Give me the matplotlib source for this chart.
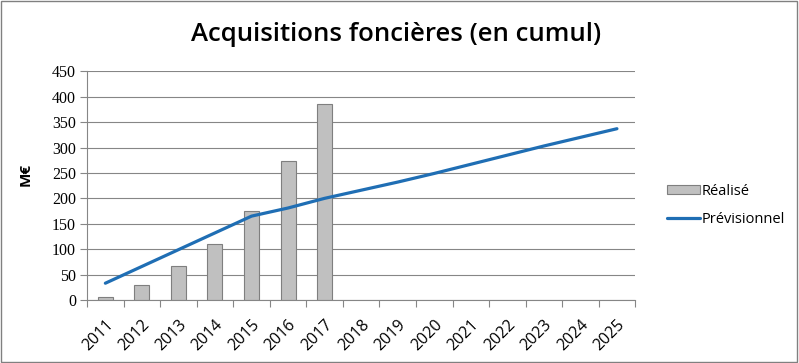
import matplotlib
matplotlib.use("Agg")
import matplotlib.pyplot as plt
import matplotlib.transforms as mtransforms
from matplotlib.patches import Rectangle
import numpy as np

years = [str(y) for y in range(2011, 2026)]
realise = [5, 29, 66, 111, 176, 273, 385]
previsionnel = [33, 66, 99, 132, 165, 181, 200, 216, 232, 249, 267, 285, 303, 320, 337]
yticks = list(range(0, 451, 50))

fig = plt.figure(figsize=(7.99, 3.63), dpi=100)
fig.patches.append(Rectangle((0.001, 0.002), 0.997, 0.996, transform=fig.transFigure,
                             fill=False, edgecolor="#808080", linewidth=1.0))
ax = fig.add_axes([0.109, 0.1736, 0.686, 0.630])

x = np.arange(len(years))
bars = ax.bar(x[:len(realise)], realise, width=0.41, color="#C0C0C0", edgecolor="#7F7F7F",
              linewidth=0.8, label="Réalisé", zorder=2)
line, = ax.plot(x, previsionnel, color="#1F6EB4", linewidth=2.3, label="Prévisionnel", zorder=3,
                solid_capstyle="round")

ax.set_xlim(-0.5, len(years) - 0.5)
ax.set_ylim(0, 450)
ax.set_yticks(yticks)
ax.set_yticklabels([str(v) for v in yticks], family="Liberation Serif", fontsize=11.5)
ax.set_xticks(x)
ax.set_xticklabels(years, rotation=45, family="Open Sans", fontsize=11.5,
                   ha="right", va="top", rotation_mode="anchor")
offset = mtransforms.ScaledTranslation(6 / 100, 0, fig.dpi_scale_trans)
for lbl in ax.get_xticklabels():
    lbl.set_transform(lbl.get_transform() + offset)
ax.tick_params(axis="x", which="major", length=0, pad=12)
ax.set_xticks(np.arange(-0.5, len(years), 1), minor=True)
ax.tick_params(axis="x", which="minor", length=5, color="#868686", width=0.8)
ax.tick_params(axis="y", length=5, color="#868686", width=0.8, pad=3)
ax.yaxis.grid(True, color="#868686", linewidth=0.8, zorder=0)
ax.set_axisbelow(True)
for s in ["top", "right"]:
    ax.spines[s].set_visible(False)
for s in ["left", "bottom"]:
    ax.spines[s].set_color("#868686")
    ax.spines[s].set_linewidth(0.8)

ax.set_ylabel("M€", family="Open Sans", fontsize=11, fontweight="bold")
ax.yaxis.set_label_coords(-0.1, 0.55)
fig.text(0.496, 0.905, "Acquisitions foncières (en cumul)", family="Open Sans",
         fontsize=18.5, fontweight="semibold", ha="center", va="center")

leg = fig.legend(handles=[bars, line], labels=["Réalisé", "Prévisionnel"],
                 loc="center left", bbox_to_anchor=(0.818, 0.435), frameon=False,
                 prop={"family": "Open Sans", "size": 10.5}, handlelength=2.3,
                 handleheight=0.5, handletextpad=0.1, labelspacing=0.9)

fig.savefig("out.png", dpi=100)
